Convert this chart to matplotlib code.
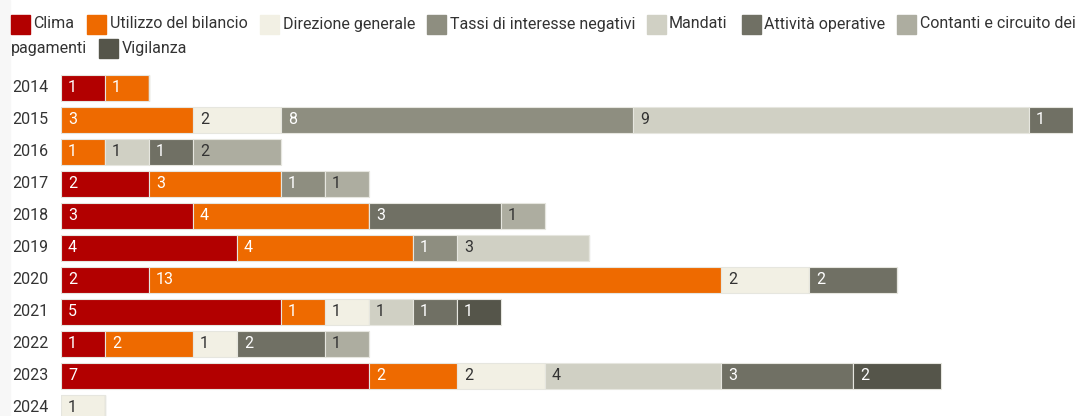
import matplotlib
matplotlib.use("Agg")
import matplotlib.pyplot as plt
from matplotlib.patches import Rectangle

plt.rcParams['font.family'] = ['Roboto', 'DejaVu Sans']

years = ['2014', '2015', '2016', '2017', '2018', '2019', '2020', '2021', '2022', '2023', '2024']
categories = ['Clima', 'Utilizzo del bilancio', 'Direzione generale', 'Tassi di interesse negativi',
              'Mandati', 'Attività operative', 'Contanti e circuito dei pagamenti', 'Vigilanza']
colors = ['#b20000', '#ee6a00', '#f2f0e4', '#8e8e80', '#d0d0c4', '#707064', '#adada0', '#55554a']
text_colors = ['white', 'white', '#333333', 'white', '#333333', 'white', '#333333', 'white']

clima       = [1, 0, 0, 2, 3, 4, 2, 5, 1, 7, 0]
bilancio    = [1, 3, 1, 3, 4, 4, 13, 1, 2, 2, 0]
direzione   = [0, 2, 0, 0, 0, 0, 2, 1, 1, 2, 1]
tassi       = [0, 8, 0, 1, 0, 1, 0, 0, 0, 0, 0]
mandati     = [0, 9, 1, 0, 0, 3, 0, 1, 0, 4, 0]
operative   = [0, 1, 1, 0, 3, 0, 2, 1, 2, 3, 0]
contanti    = [0, 0, 2, 1, 1, 0, 0, 0, 1, 0, 0]
vigilanza   = [0, 0, 0, 0, 0, 0, 0, 1, 0, 2, 0]
series = [clima, bilancio, direzione, tassi, mandati, operative, contanti, vigilanza]

W, H = 1076, 416
FS = 11.5
fig = plt.figure(figsize=(W / 100, H / 100), dpi=100)
fig.patches.append(Rectangle((0, 0), 10 / W, 1, transform=fig.transFigure,
                             color='#f7f7f7', zorder=0))

ax = fig.add_axes([61 / W, 0, 1012 / W, 344 / H])
ypos = list(range(len(years)))
left = [0] * len(years)
for vals, col, tcol in zip(series, colors, text_colors):
    ax.barh(ypos, vals, left=left, height=0.81, color=col,
            edgecolor='#e6e6df', linewidth=0.8)
    for i, v in enumerate(vals):
        if v > 0:
            ax.annotate(str(v), (left[i], i), xytext=(5, 0), textcoords='offset points',
                        va='center', ha='left', fontsize=FS, color=tcol)
    left = [a + b for a, b in zip(left, vals)]

ax.set_xlim(0, 23)
ax.set_ylim(10.25, -0.5)
ax.axis('off')
for i, y in enumerate(years):
    ax.text(-49 / 44, i, y, ha='left', va='center', fontsize=FS, color='#333333')

# legend laid out like the original (wraps onto a second line)
legend_items = [
    (11, 24.5, 33, 0, 'Clima'),
    (87, 24.5, 110, 1, 'Utilizzo del bilancio'),
    (260, 24.5, 283, 2, 'Direzione generale'),
    (427, 24.5, 450, 3, 'Tassi di interesse negativi'),
    (647, 24.5, 669, 4, 'Mandati'),
    (742, 24.5, 764, 5, 'Attività operative'),
    (897, 24.5, 920, 6, 'Contanti e circuito dei'),
    (99, 48.5, 122, 7, 'Vigilanza'),
]
for sx, cy, tx, k, lab in legend_items:
    fig.patches.append(Rectangle((sx / W, 1 - (cy + 9.5) / H), 19 / W, 19 / H,
                                 transform=fig.transFigure, color=colors[k]))
    fig.text(tx / W, 1 - (cy - 0.5) / H, lab, ha='left', va='center', fontsize=FS, color='#333333')
fig.text(11 / W, 1 - 48 / H, 'pagamenti', ha='left', va='center', fontsize=FS, color='#333333')

fig.savefig('out.png', dpi=100)
